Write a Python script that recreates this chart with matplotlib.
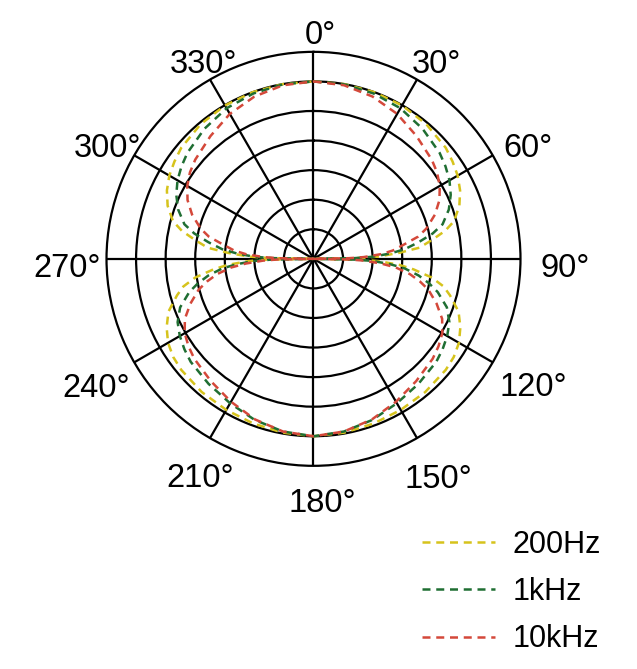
import numpy as np
import matplotlib
matplotlib.use('Agg')
import matplotlib.pyplot as plt

plt.rcParams['font.family'] = ['Liberation Sans', 'DejaVu Sans']

# angles in degrees (clockwise from top), radius in ring units (outer ring = 7)
angles = [0, 10, 20, 30, 40, 50, 55, 60, 65, 70, 75, 78, 81, 84, 86, 88, 89, 90,
          91, 92, 94, 96, 99, 102, 105, 110, 115, 120, 125, 130, 140, 150, 160, 170, 180,
          190, 200, 210, 220, 230, 235, 240, 245, 250, 255, 258, 261, 264, 266, 268, 269, 270,
          271, 272, 274, 276, 279, 282, 285, 290, 295, 300, 305, 310, 320, 330, 340, 350, 360]

r_200hz = [6.0, 6.0, 6.0, 5.99, 5.94, 5.84, 5.74, 5.63, 5.47, 5.25, 4.92, 4.55, 4.05, 3.6, 2.9, 2.2, 1.5, 0.0,
           1.6, 2.2, 2.9, 3.4, 4.05, 4.5, 4.78, 5.22, 5.48, 5.68, 5.79, 5.84, 5.88, 5.9, 5.93, 5.97, 6.0,
           5.97, 5.93, 5.9, 5.88, 5.84, 5.79, 5.68, 5.48, 5.22, 4.78, 4.5, 4.05, 3.4, 2.9, 2.2, 1.6, 0.0,
           1.5, 2.2, 2.9, 3.6, 4.05, 4.55, 4.92, 5.25, 5.47, 5.63, 5.74, 5.84, 5.94, 5.99, 6.0, 6.0, 6.0]

r_1khz = [6.0, 5.99, 5.95, 5.88, 5.74, 5.57, 5.45, 5.31, 5.12, 4.87, 4.52, 4.12, 3.6, 3.1, 2.6, 2.0, 1.4, 0.0,
          1.4, 2.0, 2.6, 3.1, 3.6, 4.0, 4.35, 4.8, 5.07, 5.22, 5.33, 5.42, 5.52, 5.64, 5.8, 5.93, 6.0,
          5.93, 5.8, 5.64, 5.52, 5.42, 5.33, 5.22, 5.07, 4.8, 4.35, 4.0, 3.6, 3.1, 2.6, 2.0, 1.4, 0.0,
          1.4, 2.0, 2.6, 3.1, 3.6, 4.12, 4.52, 4.87, 5.12, 5.31, 5.45, 5.57, 5.74, 5.88, 5.95, 5.99, 6.0]

r_10khz = [6.0, 5.96, 5.84, 5.66, 5.42, 5.22, 5.1, 4.93, 4.7, 4.37, 3.95, 3.62, 3.1, 2.7, 2.3, 1.7, 1.2, 0.0,
           1.2, 1.7, 2.3, 2.8, 3.3, 3.68, 4.02, 4.43, 4.8, 5.03, 5.16, 5.26, 5.4, 5.58, 5.78, 5.93, 6.0,
           5.93, 5.78, 5.58, 5.4, 5.26, 5.16, 5.03, 4.8, 4.43, 4.02, 3.68, 3.3, 2.8, 2.3, 1.7, 1.2, 0.0,
           1.2, 1.7, 2.3, 2.7, 3.1, 3.62, 3.95, 4.37, 4.7, 4.93, 5.1, 5.22, 5.42, 5.66, 5.84, 5.96, 6.0]

series = [('200Hz', r_200hz, '#d6c31c'),
          ('1kHz', r_1khz, '#1f6e32'),
          ('10kHz', r_10khz, '#d4483a')]

tick_angles = [0, 30, 60, 90, 120, 150, 180, 210, 240, 270, 300, 330]
tick_labels = ['0°', '30°', '60°', '90°', '120°', '150°', '180°', '210°', '240°', '270°', '300°', '330°']
# where each label sits (theta in deg, radius in ring units, baseline)
label_theta = [1.7, 33.6, 64.7, 94.1, 122.0, 151.5, 177.9, 206.4, 237.6, 265.9, 296.4, 329.5]
label_r = [7.27, 7.54, 8.03, 8.53, 8.75, 8.82, 8.56, 8.63, 8.71, 8.37, 7.76, 7.30]

fig = plt.figure(figsize=(6.37, 6.69), dpi=100)
ax = fig.add_axes([0.1672, 0.3037, 0.6499, 0.6188], projection='polar')
ax.set_theta_zero_location('N')
ax.set_theta_direction(-1)
ax.set_ylim(0, 7)
ax.set_yticks(range(1, 7))
ax.set_yticklabels([])
ax.set_xticks(np.deg2rad(tick_angles))
ax.set_xticklabels([])
ax.grid(True, color='black', lw=1.6, ls='-')
ax.spines['polar'].set_linewidth(1.6)
ax.spines['polar'].set_color('black')

th = np.deg2rad(angles)
for name, r, c in series:
    ax.plot(th, r, color=c, lw=1.8, ls=(0, (3.2, 2.3)), label=name)

for t, rr, s in zip(label_theta, label_r, tick_labels):
    ax.text(np.deg2rad(t), rr, s, ha='center', va='baseline', fontsize=23.5,
            clip_on=False)

fig.legend(loc='center left', bbox_to_anchor=(422 / 637, 1 - 592 / 669),
           frameon=False, fontsize=22, handlelength=2.4, handletextpad=0.55,
           labelspacing=0.57, borderpad=0, borderaxespad=0)

fig.savefig('out.png', dpi=100)
